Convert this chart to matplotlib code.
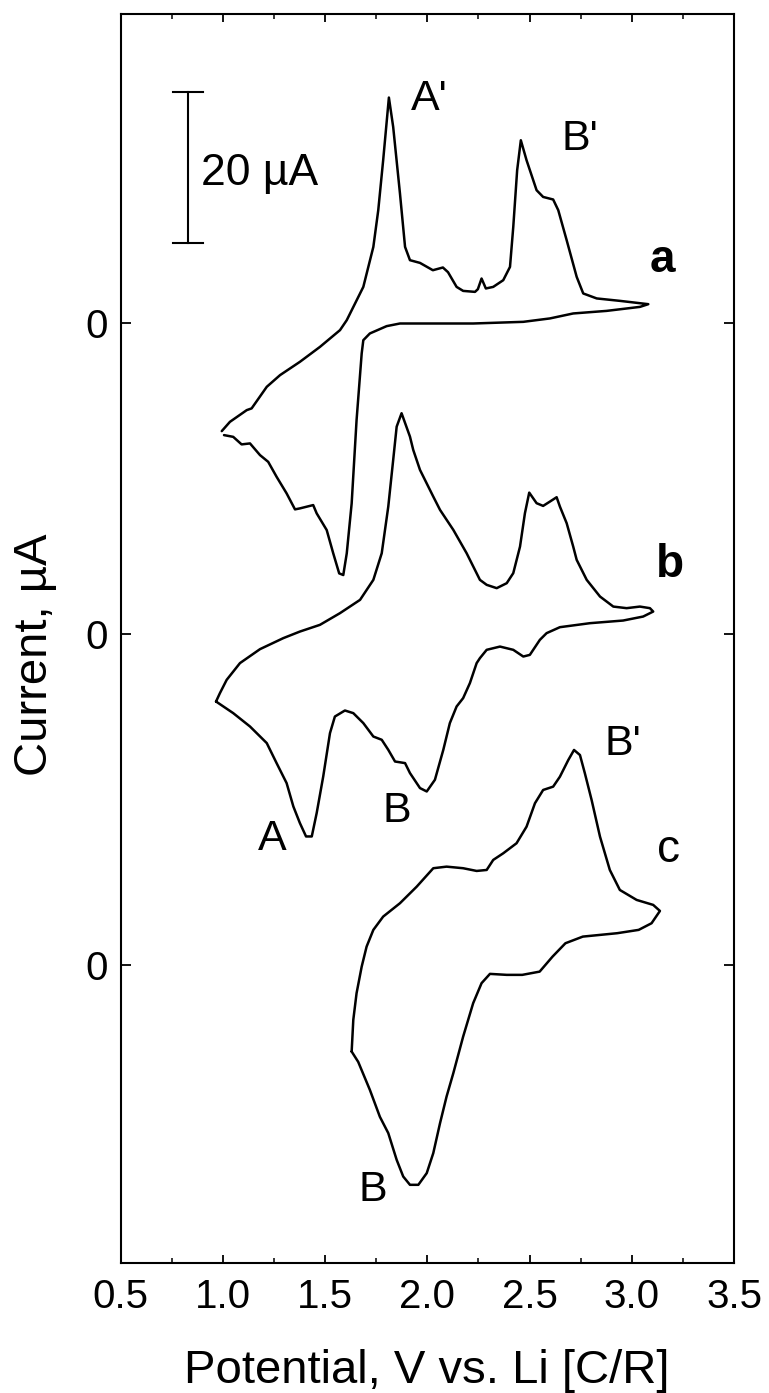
import numpy as np
import matplotlib
matplotlib.use("Agg")
import matplotlib.pyplot as plt
from matplotlib.ticker import MultipleLocator

plt.rcParams['font.family'] = ['Liberation Sans', 'DejaVu Sans']

# ---- data (potential in V vs Li, current in uA relative to each trace's zero) ----
# curve a
pot_a = [0.995, 1.035, 1.117, 1.141, 1.215, 1.280, 1.377, 1.475, 1.573, 1.606, 1.687, 1.736,
         1.760, 1.784, 1.812, 1.833, 1.866, 1.891, 1.915, 1.964, 2.027, 2.076, 2.101, 2.143,
         2.175, 2.233, 2.247, 2.265, 2.286, 2.322, 2.371, 2.404, 2.420, 2.439, 2.457, 2.485,
         2.534, 2.566, 2.615, 2.640, 2.681, 2.730, 2.762, 2.828, 2.941, 3.080,
         3.039, 2.876, 2.713, 2.599, 2.469, 2.224, 2.062, 1.866, 1.801, 1.719, 1.687, 1.679,
         1.654, 1.630, 1.606, 1.589, 1.569, 1.540, 1.508, 1.459, 1.442, 1.377, 1.353, 1.312,
         1.263, 1.222, 1.182, 1.133, 1.092, 1.051, 1.006]
cur_a = [-14.37, -13.14, -11.59, -11.36, -8.50, -6.95, -5.19, -3.21, -0.99, 0.33, 4.74, 10.04,
         14.90, 21.52, 29.83, 25.93, 17.15, 10.04, 8.28, 7.92, 6.95, 7.31, 6.69, 4.74,
         4.21, 4.08, 4.44, 5.85, 4.53, 4.74, 5.63, 7.39, 12.69, 20.20, 24.17, 21.52,
         17.55, 16.66, 16.32, 14.90, 10.93, 6.07, 3.87, 3.21, 2.89, 2.45,
         2.09, 1.56, 1.22, 0.56, 0.11, -0.11, -0.11, -0.11, -0.46, -1.43, -2.32, -4.08,
         -12.91, -23.95, -30.57, -33.44, -33.22, -30.57, -27.48, -25.27, -24.17, -24.61, -24.74, -22.62,
         -20.42, -18.44, -17.55, -16.00, -16.13, -15.13, -14.90]

# curve b
pot_b = [0.967, 0.986, 1.019, 1.084, 1.182, 1.296, 1.377, 1.475, 1.573, 1.671, 1.736, 1.777,
         1.809, 1.833, 1.850, 1.874, 1.915, 1.931, 1.964, 2.029, 2.062, 2.127, 2.192, 2.257,
         2.290, 2.339, 2.388, 2.420, 2.453, 2.477, 2.498, 2.534, 2.566, 2.599, 2.632, 2.648,
         2.681, 2.713, 2.730, 2.779, 2.844, 2.909, 2.974, 3.039, 3.088, 3.104,
         3.055, 2.957, 2.795, 2.648, 2.583, 2.550, 2.501, 2.469, 2.420, 2.355, 2.290, 2.257,
         2.241, 2.208, 2.175, 2.143, 2.110, 2.078, 2.037, 1.997, 1.964, 1.915, 1.891, 1.842,
         1.809, 1.777, 1.736, 1.687, 1.638, 1.597, 1.548, 1.524, 1.491, 1.459, 1.435, 1.407,
         1.377, 1.345, 1.312, 1.263, 1.215, 1.133, 1.051, 0.967]
cur_b = [-8.90, -7.79, -6.03, -3.81, -1.96, -0.50, 0.37, 1.26, 2.81, 4.57, 7.22, 10.75,
         16.93, 23.11, 27.52, 29.30, 26.20, 24.44, 21.79, 18.25, 16.49, 13.84, 10.75, 7.22,
         6.56, 6.12, 6.78, 8.11, 11.63, 16.05, 18.78, 17.38, 17.02, 17.59, 18.17, 16.93,
         14.73, 11.63, 9.87, 7.22, 5.01, 3.68, 3.47, 3.68, 3.47, 3.02,
         2.36, 1.83, 1.48, 0.95, 0.16, -0.73, -2.72, -2.94, -2.05, -1.62, -2.05, -3.15,
         -3.81, -6.46, -8.45, -9.56, -11.76, -15.30, -19.27, -20.82, -20.37, -18.38, -17.06, -16.85,
         -15.30, -13.97, -13.54, -11.76, -10.44, -10.09, -10.89, -13.09, -18.83, -23.68, -26.78, -26.78,
         -25.01, -22.81, -19.71, -17.06, -14.41, -12.21, -10.44, -8.90]

# curve c
pot_c = [1.630, 1.638, 1.654, 1.679, 1.703, 1.736, 1.784, 1.866, 1.948, 2.029, 2.094, 2.175,
         2.241, 2.290, 2.322, 2.371, 2.436, 2.485, 2.526, 2.566, 2.615, 2.648, 2.689, 2.717,
         2.746, 2.770, 2.803, 2.844, 2.892, 2.941, 3.023, 3.104, 3.137,
         3.096, 3.033, 2.928, 2.760, 2.675, 2.612, 2.549, 2.464, 2.388, 2.306, 2.265, 2.224,
         2.175, 2.127, 2.094, 2.062, 2.029, 1.997, 1.956, 1.915, 1.882, 1.850, 1.809, 1.768,
         1.719, 1.662, 1.630]
cur_c = [-11.48, -7.28, -3.75, -0.23, 2.42, 4.64, 6.40, 8.17, 10.37, 12.81, 13.02, 12.81,
         12.45, 12.58, 13.91, 14.79, 16.12, 18.32, 21.42, 23.18, 23.62, 24.94, 27.15, 28.48,
         27.81, 25.39, 21.85, 16.99, 12.58, 9.93, 8.61, 7.95, 7.15,
         5.52, 4.64, 4.20, 3.75, 2.87, 1.10, -0.89, -1.32, -1.32, -1.19, -2.42, -5.07,
         -9.50, -14.34, -17.44, -20.97, -24.94, -27.59, -29.14, -29.14, -28.04, -25.83, -22.29, -20.13,
         -16.56, -12.85, -11.48]

# vertical offsets of the three traces (uA)
offsets = {'a': 0.0, 'b': -41.3, 'c': -85.1}

x_ticks = [0.5, 1.0, 1.5, 2.0, 2.5, 3.0, 3.5]

# peak labels: (text, potential, current in plot units)
peak_labels = [("A'", 1.918, 28.2), ("B'", 2.656, 22.9),
               ("A", 1.173, -69.9), ("B", 1.782, -66.1),
               ("B'", 2.868, -57.3), ("B", 1.662, -116.4)]
curve_labels = [("a", 3.088, 6.7, 'bold'), ("b", 3.117, -33.7, 'bold'), ("c", 3.121, -71.4, 'normal')]

# ---- figure ----
W, H = 769, 1393
fig = plt.figure(figsize=(W / 100, H / 100), dpi=100)
fig.patch.set_facecolor('white')
ax = fig.add_axes([120.5 / W, 1 - 1263 / H, (734.2 - 120.5) / W, (1263 - 14) / H])

for pot, cur, key in [(pot_a, cur_a, 'a'), (pot_b, cur_b, 'b'), (pot_c, cur_c, 'c')]:
    ax.plot(pot, np.array(cur) + offsets[key], color='black', lw=1.8,
            solid_joinstyle='round', solid_capstyle='round')

ax.set_xlim(0.5, 3.5)
ax.set_ylim(-124.6, 40.9)

ax.set_xticks(x_ticks)
ax.set_xticklabels([f"{t:.1f}" for t in x_ticks])
ax.xaxis.set_minor_locator(MultipleLocator(0.25))
ax.set_yticks([offsets['c'], offsets['b'], offsets['a']])
ax.set_yticklabels(['0', '0', '0'])

ax.tick_params(axis='x', which='major', direction='in', top=True, length=6, width=1.3,
               labelsize=29, pad=11)
ax.tick_params(axis='x', which='minor', direction='in', top=True, length=3.5, width=1.1)
ax.tick_params(axis='y', which='major', direction='in', right=True, length=7, width=1.3,
               labelsize=29, pad=9)
for sp in ax.spines.values():
    sp.set_linewidth(1.5)

# scale bar 20 uA
bar_x, bar_top = 0.83, 30.5
ax.plot([bar_x, bar_x], [bar_top - 20, bar_top], color='black', lw=1.5)
ax.plot([bar_x - 0.073, bar_x + 0.073], [bar_top, bar_top], color='black', lw=1.5)
ax.plot([bar_x - 0.073, bar_x + 0.073], [bar_top - 20, bar_top - 20], color='black', lw=1.5)
ax.text(0.893, 18.2, "20 \u00b5A", fontsize=32, ha='left', va='baseline')

for txt, x, y in peak_labels:
    ax.text(x, y, txt, fontsize=31, ha='left', va='baseline')
for txt, x, y, wt in curve_labels:
    ax.text(x, y, txt, fontsize=33, fontweight=wt, ha='left', va='baseline')

fig.text(427 / W, 1 - 1383 / H, "Potential, V vs. Li [C/R]", fontsize=34,
         ha='center', va='baseline')
fig.text(35 / W, 1 - 655 / H, "Current, \u00b5A", fontsize=34, rotation=90,
         ha='center', va='center')

fig.savefig('out.png', dpi=100, facecolor='white')
